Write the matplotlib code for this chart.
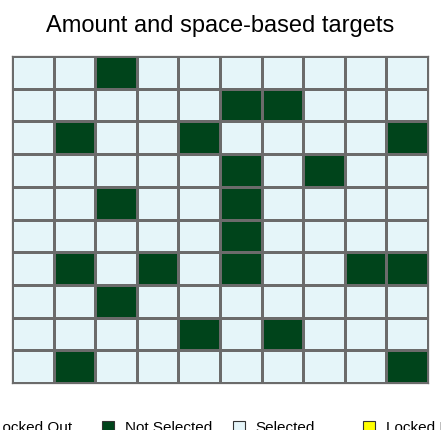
import numpy as np
import matplotlib
matplotlib.use("Agg")
import matplotlib.pyplot as plt
from matplotlib.colors import ListedColormap
from matplotlib.lines import Line2D
from matplotlib.patches import Rectangle

plt.rcParams['font.family'] = ['Liberation Sans', 'DejaVu Sans']

# status codes: 0 locked out, 1 not selected, 2 selected, 3 locked in
status_labels = ["Locked Out", "Not Selected", "Selected", "Locked In"]
status_colors = ["#ffffff", "#00441b", "#e5f5f9", "#ffff00"]

# rows from top to bottom, columns left to right
not_selected_cells = {
    0: [2],
    1: [5, 6],
    2: [1, 4, 9],
    3: [5, 7],
    4: [2, 5],
    5: [5],
    6: [1, 3, 5, 8, 9],
    7: [2],
    8: [4, 6],
    9: [1, 9],
}
n_rows, n_cols = 10, 10

grid = np.full((n_rows, n_cols), 2)
for r, cols in not_selected_cells.items():
    for c in cols:
        grid[r, c] = 1

W, H = 441, 441
fig = plt.figure(figsize=(W / 100, H / 100), dpi=100)
ax = fig.add_axes([12 / W, (H - 383) / H, 416 / W, 327 / H])

cmap = ListedColormap(status_colors)
ax.pcolormesh(grid, cmap=cmap, vmin=-0.5, vmax=3.5,
              edgecolors="#6b6b6b", linewidth=0.75)
ax.set_xlim(0, n_cols)
ax.set_ylim(n_rows, 0)
ax.set_xticks([])
ax.set_yticks([])
for s in ax.spines.values():
    s.set_edgecolor("#6b6b6b")
    s.set_linewidth(0.9)

fig.text(0.5, (H - 26) / H, "Amount and space-based targets",
         ha="center", va="center", fontsize=17)

# one legend per slot so entries are evenly spaced
slot = 130.5
x0 = -30
for i, (lab, col) in enumerate(zip(status_labels, status_colors)):
    h = Line2D([], [], marker="s", linestyle="none", markersize=9,
               markerfacecolor=col, markeredgecolor="#333333",
               markeredgewidth=0.8)
    fig.legend(handles=[h], labels=[lab], loc="center left",
               bbox_to_anchor=((x0 + i * slot) / W, (H - 428) / H),
               frameon=False, fontsize=11, handletextpad=0.6,
               borderpad=0, borderaxespad=0, handlelength=1.0)

# bottom strip is clipped in the original
fig.add_artist(Rectangle((0, 0), 1, 11 / H, transform=fig.transFigure,
                         facecolor="white", edgecolor="none", zorder=10))

fig.savefig("out.png", dpi=100)
